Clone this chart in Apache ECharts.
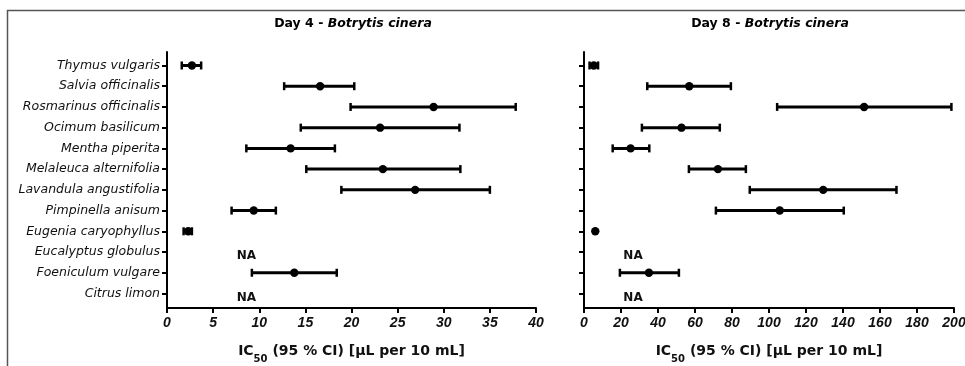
<!DOCTYPE html>
<html>
<head>
<meta charset="utf-8">
<script src="https://cdn.jsdelivr.net/npm/echarts@6/dist/echarts.min.js"></script>
<style>
html,body{margin:0;padding:0;background:#fff;}
#chart{width:965px;height:366px;}
</style>
</head>
<body>
<div id="chart"></div>
<script>
// ---- data ----
const categories = ["Thymus vulgaris","Salvia officinalis","Rosmarinus officinalis","Ocimum basilicum","Mentha piperita","Melaleuca alternifolia","Lavandula angustifolia","Pimpinella anisum","Eugenia caryophyllus","Eucalyptus globulus","Foeniculum vulgare","Citrus limon"];
const day4Low  = [1.6, 12.7, 19.9, 14.5, 8.6, 15.1, 18.9, 7.0, 1.8, null, 9.2, null];
const day4Mid  = [2.7, 16.6, 28.9, 23.1, 13.4, 23.4, 26.9, 9.4, 2.3, null, 13.8, null];
const day4High = [3.7, 20.3, 37.8, 31.7, 18.2, 31.8, 35.0, 11.8, 2.7, null, 18.4, null];
const day8Low  = [3.0, 34.2, 104.4, 31.3, 15.5, 56.7, 89.6, 71.3, null, null, 19.4, null];
const day8Mid  = [5.3, 56.9, 151.4, 52.7, 25.2, 72.4, 129.3, 105.8, 6.1, null, 35.1, null];
const day8High = [7.6, 79.4, 198.6, 73.4, 35.3, 87.5, 168.9, 140.4, null, null, 51.3, null];
const day4Ticks = {min: 0, max: 40, interval: 5};
const day8Ticks = {min: 0, max: 200, interval: 20};
const titles = ["Day 4 - ", "Day 8 - "];
const organism = "Botrytis cinera";
const xName = ["IC", "50", " (95 % CI) [µL per 10 mL]"];
const naText = "NA";

// ---- rendering ----
const FONT = '"DejaVu Sans", "Liberation Sans", Arial, sans-serif';
const FONT_TICK = '"Liberation Sans", Arial, sans-serif';
const catIdx = categories.map((_, i) => i);

function makeRender(lo, mid, hi, naX) {
  return function (params, api) {
    const i = params.dataIndex;
    const children = [];
    if (mid[i] == null) {
      const p = api.coord([naX, i]);
      children.push({type: 'text', style: {text: naText, x: p[0], y: p[1] + 4, align: 'center', verticalAlign: 'middle', font: 'bold 12px ' + FONT, fill: '#111'}});
      return {type: 'group', children};
    }
    if (lo[i] != null && hi[i] != null) {
      const a = api.coord([lo[i], i]);
      const b = api.coord([hi[i], i]);
      children.push({type: 'line', shape: {x1: a[0], y1: a[1], x2: b[0], y2: b[1]}, style: {stroke: '#000', lineWidth: 3}});
      children.push({type: 'line', shape: {x1: a[0], y1: a[1] - 4, x2: a[0], y2: a[1] + 4}, style: {stroke: '#000', lineWidth: 2.5}});
      children.push({type: 'line', shape: {x1: b[0], y1: b[1] - 4, x2: b[0], y2: b[1] + 4}, style: {stroke: '#000', lineWidth: 2.5}});
    }
    const c = api.coord([mid[i], i]);
    children.push({type: 'circle', shape: {cx: c[0], cy: c[1], r: 4.2}, style: {fill: '#000'}});
    return {type: 'group', children};
  };
}

function yAxisCfg(gridIndex, showLabels) {
  return {
    type: 'value', gridIndex, inverse: true, min: -0.65, max: 11.7,
    splitLine: {show: false},
    axisLine: {show: true, onZero: false, lineStyle: {color: '#000', width: 2}},
    axisTick: {show: true, length: 5, lineStyle: {color: '#000', width: 2}, customValues: catIdx},
    axisLabel: {show: showLabels, customValues: catIdx, formatter: v => categories[Math.round(v)] || '',
      fontFamily: FONT, fontStyle: 'italic', fontSize: 12.5, color: '#111', margin: 7}
  };
}
function xAxisCfg(gridIndex, t) {
  return {
    type: 'value', gridIndex, min: t.min, max: t.max, interval: t.interval,
    splitLine: {show: false},
    axisLine: {show: true, onZero: false, lineStyle: {color: '#000', width: 2}},
    axisTick: {show: true, length: 5, lineStyle: {color: '#000', width: 2}},
    axisLabel: {fontFamily: FONT_TICK, fontStyle: 'italic', fontWeight: 'bold', fontSize: 14, color: '#111', margin: 8},
    name: '{a|' + xName[0] + '}{s|' + xName[1] + '}{a|' + xName[2] + '}',
    nameLocation: 'middle', nameGap: 36,
    nameTextStyle: {rich: {
      a: {fontFamily: FONT, fontWeight: 'bold', fontSize: 14, color: '#111'},
      s: {fontFamily: FONT, fontWeight: 'bold', fontSize: 10, color: '#111', verticalAlign: 'bottom', padding: [0, 0, -6, 0]}
    }}
  };
}
function titleGraphic(x, prefix) {
  return {
    type: 'text', x: x, y: 24, silent: true,
    style: {
      text: '{n|' + prefix + '}{i|' + organism + '}', align: 'center', verticalAlign: 'middle',
      rich: {
        n: {fontFamily: FONT, fontWeight: 'bold', fontSize: 12.5, color: '#111'},
        i: {fontFamily: FONT, fontWeight: 'bold', fontStyle: 'italic', fontSize: 12.5, color: '#111'}
      }
    }
  };
}

const chart = echarts.init(document.getElementById('chart'), null, {renderer: 'canvas'});
chart.setOption({
  animation: false,
  backgroundColor: '#fff',
  grid: [
    {left: 167, right: 965 - 536, top: 52, bottom: 58, outerBoundsMode: 'none', containLabel: false},
    {left: 584, right: 965 - 954, top: 52, bottom: 58, outerBoundsMode: 'none', containLabel: false}
  ],
  xAxis: [xAxisCfg(0, day4Ticks), xAxisCfg(1, day8Ticks)],
  yAxis: [yAxisCfg(0, true), yAxisCfg(1, false)],
  graphic: [
    {type: 'rect', shape: {x: 7.5, y: 10.5, width: 1000, height: 400}, style: {fill: 'none', stroke: '#555', lineWidth: 1.5}, silent: true},
    titleGraphic(353, titles[0]),
    titleGraphic(770, titles[1])
  ],
  series: [
    {type: 'custom', xAxisIndex: 0, yAxisIndex: 0, renderItem: makeRender(day4Low, day4Mid, day4High, 8.6),
     data: catIdx.map(i => [day4Mid[i] == null ? 8.6 : day4Mid[i], i]), encode: {x: 0, y: 1}},
    {type: 'custom', xAxisIndex: 1, yAxisIndex: 1, renderItem: makeRender(day8Low, day8Mid, day8High, 26.5),
     data: catIdx.map(i => [day8Mid[i] == null ? 26.5 : day8Mid[i], i]), encode: {x: 0, y: 1}}
  ]
});
</script>
</body>
</html>
